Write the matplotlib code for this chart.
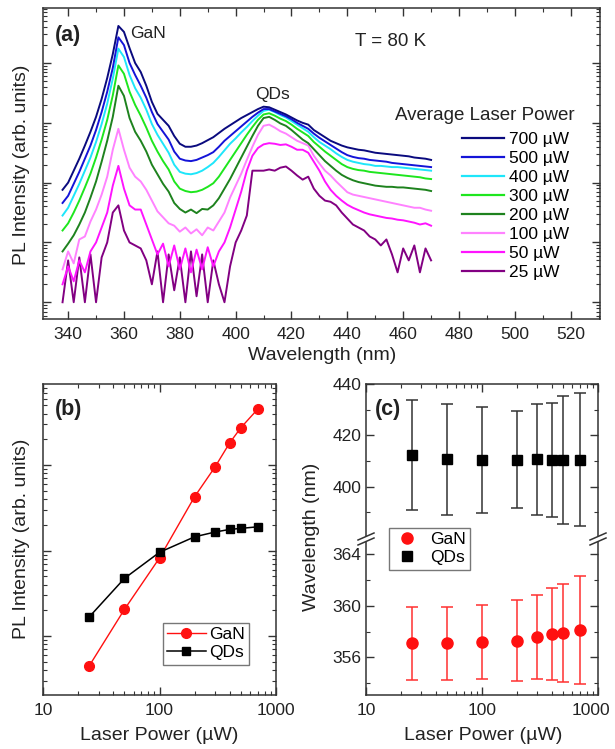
import numpy as np
import matplotlib
matplotlib.use('Agg')
import matplotlib.pyplot as plt
from matplotlib.lines import Line2D
from matplotlib.patches import Rectangle
from matplotlib.ticker import LogLocator, NullFormatter, MultipleLocator, FixedLocator

plt.rcParams['font.family'] = ['Liberation Sans', 'DejaVu Sans']

# ---------------- data: panel (a) spectra (log10 of PL intensity) ----------------
wavelength = np.arange(338, 471, 2)  # nm, 2 nm grid

log_700 = [1.88, 2.00, 2.20, 2.40, 2.62, 2.85, 3.10, 3.40, 3.75, 4.15, 4.62, 4.52, 4.25, 4.00, 3.85, 3.62, 3.35, 3.15, 3.05, 2.95,
           2.78, 2.65, 2.60, 2.60, 2.62, 2.66, 2.71, 2.76, 2.83, 2.90, 2.96, 3.02, 3.08, 3.13, 3.18, 3.23, 3.27, 3.26, 3.22, 3.18,
           3.14, 3.09, 3.04, 3.00, 2.97, 2.88, 2.82, 2.76, 2.70, 2.66, 2.62, 2.59, 2.57, 2.55, 2.54, 2.52, 2.50, 2.49, 2.48, 2.47,
           2.46, 2.45, 2.44, 2.42, 2.41, 2.40, 2.38]
log_500 = [1.66, 1.78, 1.98, 2.18, 2.40, 2.62, 2.88, 3.18, 3.52, 3.92, 4.43, 4.30, 4.00, 3.80, 3.62, 3.42, 3.18, 2.98, 2.85, 2.72,
           2.52, 2.40, 2.37, 2.36, 2.38, 2.42, 2.46, 2.51, 2.60, 2.70, 2.78, 2.86, 2.94, 3.02, 3.10, 3.17, 3.23, 3.23, 3.19, 3.15,
           3.11, 3.06, 3.00, 2.95, 2.90, 2.82, 2.75, 2.69, 2.63, 2.57, 2.51, 2.46, 2.43, 2.41, 2.40, 2.38, 2.37, 2.36, 2.35, 2.33,
           2.32, 2.31, 2.30, 2.29, 2.28, 2.27, 2.26]
log_400 = [1.45, 1.58, 1.78, 1.98, 2.20, 2.42, 2.68, 2.98, 3.32, 3.74, 4.24, 4.10, 3.80, 3.58, 3.42, 3.22, 2.98, 2.80, 2.65, 2.50,
           2.30, 2.18, 2.15, 2.14, 2.16, 2.20, 2.26, 2.33, 2.43, 2.54, 2.65, 2.74, 2.84, 2.93, 3.03, 3.12, 3.20, 3.22, 3.18, 3.13,
           3.09, 3.03, 2.97, 2.91, 2.85, 2.76, 2.68, 2.62, 2.56, 2.49, 2.43, 2.38, 2.35, 2.33, 2.31, 2.30, 2.28, 2.28, 2.27, 2.26,
           2.26, 2.25, 2.24, 2.23, 2.22, 2.21, 2.20]
log_300 = [1.20, 1.32, 1.50, 1.70, 1.92, 2.15, 2.42, 2.72, 3.05, 3.46, 3.96, 3.82, 3.52, 3.30, 3.12, 2.92, 2.70, 2.52, 2.36, 2.22,
           2.02, 1.90, 1.86, 1.84, 1.85, 1.88, 1.93, 1.99, 2.10, 2.24, 2.38, 2.52, 2.66, 2.80, 2.93, 3.05, 3.14, 3.16, 3.12, 3.07,
           3.03, 2.97, 2.90, 2.84, 2.78, 2.68, 2.60, 2.52, 2.45, 2.38, 2.31, 2.26, 2.23, 2.21, 2.20, 2.18, 2.17, 2.16, 2.15, 2.14,
           2.13, 2.12, 2.11, 2.10, 2.09, 2.07, 2.06]
log_200 = [0.85, 0.98, 1.12, 1.30, 1.50, 1.75, 2.02, 2.35, 2.70, 3.10, 3.62, 3.45, 3.08, 2.85, 2.70, 2.52, 2.30, 2.14, 1.98, 1.85,
           1.66, 1.56, 1.50, 1.55, 1.49, 1.56, 1.55, 1.62, 1.74, 1.90, 2.06, 2.24, 2.42, 2.60, 2.78, 2.95, 3.08, 3.10, 3.05, 2.99,
           2.95, 2.88, 2.80, 2.72, 2.66, 2.56, 2.46, 2.36, 2.28, 2.20, 2.13, 2.08, 2.04, 2.01, 1.99, 1.97, 1.95, 1.94, 1.93, 1.93,
           1.92, 1.92, 1.91, 1.90, 1.89, 1.88, 1.86]
log_100 = [0.55, 0.85, 0.65, 1.05, 1.10, 1.35, 1.55, 1.80, 2.10, 2.55, 2.90, 2.55, 2.25, 2.10, 2.02, 1.88, 1.70, 1.52, 1.42, 1.32,
           1.28, 1.18, 1.25, 1.15, 1.22, 1.12, 1.25, 1.20, 1.35, 1.50, 1.75, 1.95, 2.15, 2.38, 2.60, 2.80, 2.95, 2.97, 2.92, 2.86,
           2.82, 2.76, 2.70, 2.66, 2.62, 2.45, 2.32, 2.20, 2.12, 2.02, 1.93, 1.84, 1.80, 1.78, 1.76, 1.74, 1.72, 1.70, 1.68, 1.66,
           1.64, 1.62, 1.60, 1.58, 1.58, 1.55, 1.53]
log_50 = [0.30, 0.60, 0.35, 0.70, 0.50, 0.85, 1.00, 1.25, 1.50, 1.95, 2.28, 1.90, 1.62, 1.55, 1.55, 1.30, 1.05, 0.80, 0.98, 0.60,
          0.95, 0.55, 0.90, 0.50, 0.88, 0.55, 0.92, 0.60, 0.85, 1.00, 1.25, 1.55, 1.85, 2.20, 2.45, 2.58, 2.64, 2.66, 2.65, 2.63,
          2.64, 2.60, 2.55, 2.55, 2.50, 2.35, 2.20, 2.02, 1.88, 1.78, 1.70, 1.63, 1.58, 1.54, 1.50, 1.47, 1.45, 1.43, 1.41, 1.40,
          1.38, 1.37, 1.35, 1.33, 1.30, 1.32, 1.28]
log_25 = [0.00, 0.70, 0.00, 0.75, 0.00, 0.80, 0.00, 0.75, 1.00, 1.50, 1.62, 1.20, 1.00, 0.95, 0.90, 0.70, 0.30, 0.85, 0.00, 0.80,
          0.20, 0.75, 0.00, 0.85, 0.10, 0.80, 0.00, 0.70, 0.30, 0.00, 0.60, 1.00, 1.20, 1.45, 2.20, 2.20, 2.20, 2.22, 2.20, 2.25,
          2.27, 2.20, 2.12, 2.05, 2.10, 1.90, 1.78, 1.70, 1.68, 1.62, 1.50, 1.40, 1.30, 1.25, 1.20, 1.10, 1.05, 0.95, 1.05, 0.80,
          0.50, 0.90, 0.70, 0.95, 0.50, 0.90, 0.70]

power_labels = ['700 µW', '500 µW', '400 µW', '300 µW', '200 µW', '100 µW', '50 µW', '25 µW']
power_colors = ['#0A0A7E', '#1414D8', '#1EE6FA', '#1EE61E', '#1E821E', '#FF82FF', '#FF14FF', '#820082']
spectra = [log_700, log_500, log_400, log_300, log_200, log_100, log_50, log_25]

# ---------------- data: panels (b) and (c) ----------------
laser_power = [25, 50, 100, 200, 300, 400, 500, 700]
gan_intensity = [4.5, 20.5, 82, 427, 955, 1820, 2750, 4560]
qd_intensity = [16.8, 47.3, 95.5, 145, 165, 177, 182, 190]

qd_wavelength = [412.4, 410.6, 410.5, 410.5, 410.7, 410.5, 410.5, 410.5]
qd_err = [21.4, 21.6, 20.6, 19.0, 21.7, 22.2, 24.9, 25.8]
gan_wavelength = [357.1, 357.1, 357.2, 357.3, 357.6, 357.8, 357.9, 358.1]
gan_err = [2.85, 2.85, 2.9, 3.15, 3.25, 3.6, 3.8, 4.2]

power_ticks = [10, 100, 1000]
power_ticklabels = ['10', '100', '1000']

# ---------------- figure helpers ----------------
W, H = 615, 749
fig = plt.figure(figsize=(W / 100, H / 100), dpi=100)


def rect(l, t, r, b):
    return [l / W, 1 - b / H, (r - l) / W, (b - t) / H]


def fx(x):
    return x / W


def fy(y):
    return 1 - y / H


SPINE = '#333333'
TXT = '#222222'
TICKFS = 12.5
LABELFS = 14


def style(ax):
    for s in ax.spines.values():
        s.set_linewidth(1.1)
        s.set_color(SPINE)
    ax.tick_params(which='both', direction='in', top=True, right=True, colors=SPINE,
                   labelcolor=TXT, labelsize=TICKFS)
    ax.tick_params(which='major', length=5.5, width=1.0)
    ax.tick_params(which='minor', length=3, width=0.8)


# ---------------- panel (a) ----------------
axa = fig.add_axes(rect(43, 8, 600, 319))
for lab, arr, col in list(zip(power_labels, spectra, power_colors))[::-1]:
    axa.plot(wavelength, 10 ** np.array(arr), color=col, lw=1.4, label=lab)
axa.set_yscale('log')
axa.set_xlim(331, 530.5)
axa.set_ylim(10 ** -0.28, 10 ** 4.92)
axa.xaxis.set_major_locator(MultipleLocator(20))
axa.xaxis.set_minor_locator(MultipleLocator(10))
axa.yaxis.set_major_locator(LogLocator(base=10, numticks=12))
axa.yaxis.set_minor_locator(LogLocator(base=10, subs=np.arange(2, 10), numticks=12))
axa.yaxis.set_major_formatter(NullFormatter())
axa.yaxis.set_minor_formatter(NullFormatter())
style(axa)
axa.tick_params(axis='x', pad=6)

fig.text(fx(55), fy(35), '(a)', fontsize=15.5, fontweight='bold', ha='left', va='center', color=TXT)
fig.text(fx(130), fy(34), 'GaN', fontsize=12.5, ha='left', va='center', color=TXT)
fig.text(fx(272), fy(95), 'QDs', fontsize=12.5, ha='center', va='center', color=TXT)
fig.text(fx(391), fy(41), 'T = 80 K', fontsize=13.5, ha='center', va='center', color=TXT)
fig.text(fx(485), fy(115), 'Average Laser Power', fontsize=13.5, ha='center', va='center', color=TXT)

handles = [Line2D([], [], color=c, lw=1.6) for c in power_colors]
axa.legend(handles, power_labels, loc='upper left', bbox_to_anchor=(fx(462), fy(132)),
           bbox_transform=fig.transFigure, frameon=False, fontsize=12.5, handlelength=2.4,
           handletextpad=0.3, labelspacing=0.22, borderaxespad=0, borderpad=0)

fig.text(fx(22), fy(165), 'PL Intensity (arb. units)', fontsize=LABELFS, rotation=90,
         ha='center', va='center', color=TXT)
fig.text(fx(322), fy(355), 'Wavelength (nm)', fontsize=LABELFS, ha='center', va='center', color=TXT)

# ---------------- panel (b) ----------------
axb = fig.add_axes(rect(43, 384, 276, 695))
axb.plot(laser_power, gan_intensity, '-o', color='#FF1010', lw=1.0, ms=7, mec='#FF1010', label='GaN', zorder=3)
axb.plot(laser_power, qd_intensity, '-s', color='black', lw=1.1, ms=6, label='QDs', zorder=4)
axb.set_xscale('log')
axb.set_yscale('log')
axb.set_xlim(10, 1000)
axb.set_ylim(10 ** 0.31, 10 ** 3.95)
axb.yaxis.set_major_locator(LogLocator(base=10, numticks=12))
axb.yaxis.set_minor_locator(LogLocator(base=10, subs=np.arange(2, 10), numticks=12))
axb.yaxis.set_major_formatter(NullFormatter())
axb.yaxis.set_minor_formatter(NullFormatter())
axb.xaxis.set_major_locator(FixedLocator(power_ticks))
axb.xaxis.set_minor_locator(LogLocator(base=10, subs=np.arange(2, 10), numticks=12))
axb.xaxis.set_minor_formatter(NullFormatter())
axb.set_xticklabels(power_ticklabels)
style(axb)
axb.tick_params(axis='x', pad=6)
leg_b = axb.legend(loc='upper left', bbox_to_anchor=(fx(163), fy(623)), bbox_transform=fig.transFigure,
                   fontsize=12.5, fancybox=False, edgecolor='#777777', framealpha=1, handlelength=2.2,
                   handletextpad=0.2, labelspacing=0.15, borderpad=0.25, borderaxespad=0)
leg_b.get_frame().set_linewidth(1.0)
fig.text(fx(55), fy(410), '(b)', fontsize=15.5, fontweight='bold', ha='left', va='center', color=TXT)
fig.text(fx(22), fy(539), 'PL Intensity (arb. units)', fontsize=LABELFS, rotation=90,
         ha='center', va='center', color=TXT)
fig.text(fx(159), fy(735), 'Laser Power (µW)', fontsize=LABELFS, ha='center', va='center', color=TXT)

# ---------------- panel (c) ----------------
brk = 539
axc1 = fig.add_axes(rect(366, 384, 598, brk))
axc2 = fig.add_axes(rect(366, brk, 598, 695))
axc1.errorbar(laser_power, qd_wavelength, yerr=qd_err, fmt='s', color='black', ecolor='#333333',
              ms=6.5, elinewidth=1.1, capsize=4.2, capthick=1.1)
axc2.errorbar(laser_power, gan_wavelength, yerr=gan_err, fmt='o', color='#FF1010', ecolor='#FF3030',
              ms=8, elinewidth=1.1, capsize=4.2, capthick=1.1)
for ax in (axc1, axc2):
    ax.set_xscale('log')
    ax.set_xlim(10, 1000)
    ax.xaxis.set_major_locator(FixedLocator(power_ticks))
    ax.xaxis.set_minor_locator(LogLocator(base=10, subs=np.arange(2, 10), numticks=12))
    ax.xaxis.set_minor_formatter(NullFormatter())
    style(ax)
axc1.set_ylim(379.6, 440)
axc1.yaxis.set_major_locator(FixedLocator([400, 420, 440]))
axc1.yaxis.set_minor_locator(FixedLocator([390, 410, 430]))
axc2.set_ylim(353.07, 365.2)
axc2.yaxis.set_major_locator(FixedLocator([356, 360, 364]))
axc2.yaxis.set_minor_locator(FixedLocator([354, 358, 362]))
axc1.spines['bottom'].set_visible(False)
axc2.spines['top'].set_visible(False)
axc1.tick_params(which='both', bottom=False, labelbottom=False)
axc2.tick_params(which='both', top=False)
# last label "1000" is shifted left to stay inside the image, as in the reference
axc2.set_xticklabels(power_ticklabels[:-1] + [''])
axc2.tick_params(axis='x', pad=6)
fig.text(fx(591), fy(703), power_ticklabels[-1], fontsize=TICKFS, ha='center', va='top', color=TXT)

# break marks
for xb in (366, 598):
    fig.add_artist(Rectangle((fx(xb - 4), fy(brk + 3)), 8 / W, 6 / H, transform=fig.transFigure,
                             facecolor='white', edgecolor='none', zorder=10))
    for dy in (-2.5, 2.5):
        fig.add_artist(Line2D([fx(xb - 8), fx(xb + 8)], [fy(brk + dy + 3.5), fy(brk + dy - 3.5)],
                              transform=fig.transFigure, color=SPINE, lw=1.1, zorder=11))

hc = [Line2D([], [], ls='none', marker='o', color='#FF1010', ms=8),
      Line2D([], [], ls='none', marker='s', color='black', ms=6.5)]
leg_c = fig.legend(hc, ['GaN', 'QDs'], loc='upper left', bbox_to_anchor=(fx(389), fy(528)),
                   fontsize=12.5, fancybox=False, edgecolor='#777777', framealpha=1, handlelength=1.6,
                   handletextpad=0.5, labelspacing=0.15, borderpad=0.25, borderaxespad=0)
leg_c.get_frame().set_linewidth(1.0)
leg_c.set_zorder(20)

fig.text(fx(375), fy(410), '(c)', fontsize=15.5, fontweight='bold', ha='left', va='center', color=TXT)
fig.text(fx(312), fy(537), 'Wavelength (nm)', fontsize=LABELFS, rotation=90,
         ha='center', va='center', color=TXT)
fig.text(fx(483), fy(735), 'Laser Power (µW)', fontsize=LABELFS, ha='center', va='center', color=TXT)

fig.savefig('out.png', dpi=100)
